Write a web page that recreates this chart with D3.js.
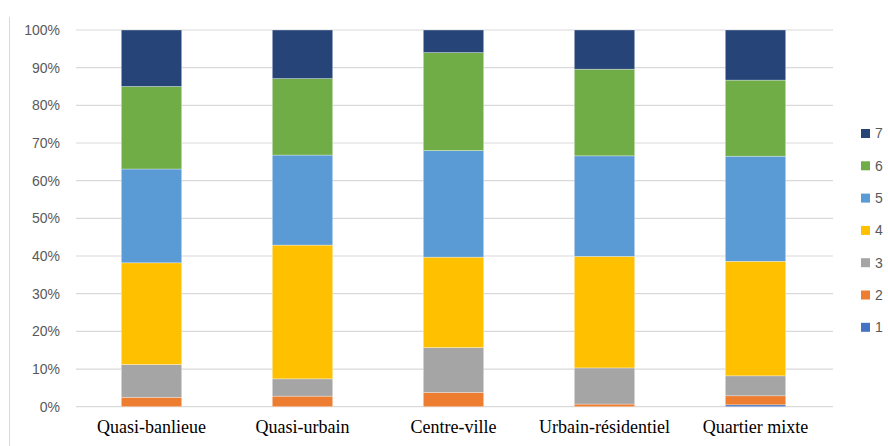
<!DOCTYPE html>
<html>
<head>
<meta charset="utf-8">
<script src="https://cdn.jsdelivr.net/npm/d3@7"></script>
<style>
  html, body { margin: 0; padding: 0; background: #fff; }
  svg { display: block; }
</style>
</head>
<body>
<svg id="chart" width="888" height="446"></svg>
<script>
// Neighbourhood types (x categories)
const categories = ["Quasi-banlieue", "Quasi-urbain", "Centre-ville", "Urbain-résidentiel", "Quartier mixte"];
// Response levels 1..7 stacked bottom to top
const levels = ["1", "2", "3", "4", "5", "6", "7"];
// Share of respondents (%) for each level, one value per category
const level1 = [0.0, 0.0, 0.0, 0.0, 0.5];
const level2 = [2.5, 2.8, 3.8, 0.7, 2.4];
const level3 = [8.7, 4.6, 11.9, 9.6, 5.3];
const level4 = [27.0, 35.5, 24.0, 29.6, 30.4];
const level5 = [24.9, 23.9, 28.3, 26.7, 27.9];
const level6 = [21.9, 20.3, 26.0, 23.0, 20.2];
const level7 = [15.0, 12.9, 6.0, 10.4, 13.3];
const tickValues = [0, 10, 20, 30, 40, 50, 60, 70, 80, 90, 100];
const colors = ["#4472C4", "#ED7D31", "#A5A5A5", "#FFC000", "#5B9BD5", "#70AD47", "#264478"];

const seriesValues = [level1, level2, level3, level4, level5, level6, level7];
const rows = categories.map((c, i) => {
  const r = { category: c };
  levels.forEach((l, j) => { r[l] = seriesValues[j][i]; });
  return r;
});
const stacked = d3.stack().keys(levels)(rows);

const svg = d3.select("#chart");

const x = d3.scaleBand().domain(categories).range([76, 831])
  .paddingInner(0.6).paddingOuter(0.3);
const y = d3.scaleLinear().domain([0, 100]).range([406.7, 30]);
const color = d3.scaleOrdinal().domain(levels).range(colors);

// outer frame edge on the left
svg.append("line")
  .attr("x1", 9.5).attr("x2", 9.5).attr("y1", 17).attr("y2", 446)
  .attr("stroke", "#d9d9d9").attr("stroke-width", 1);

// horizontal gridlines
svg.append("g")
  .selectAll("line")
  .data(tickValues)
  .join("line")
  .attr("x1", 76).attr("x2", 833)
  .attr("y1", d => y(d)).attr("y2", d => y(d))
  .attr("stroke", "#d9d9d9").attr("stroke-width", 1.2);

// y axis labels
const yAxis = d3.axisLeft(y).tickValues(tickValues).tickFormat(d => d + "%").tickSize(0).tickPadding(0);
const yg = svg.append("g").attr("transform", "translate(60,0)").call(yAxis);
yg.select(".domain").remove();
yg.selectAll("text")
  .attr("fill", "#595959")
  .style("font-family", "'Liberation Sans', Arial, sans-serif")
  .style("font-size", "14px");

// stacked bars
svg.append("g")
  .selectAll("g")
  .data(stacked)
  .join("g")
  .attr("fill", d => color(d.key))
  .selectAll("rect")
  .data(d => d)
  .join("rect")
  .attr("x", d => x(d.data.category))
  .attr("width", x.bandwidth())
  .attr("y", d => y(d[1]))
  .attr("height", d => Math.max(0, y(d[0]) - y(d[1])))
  .attr("stroke", "#ffffff").attr("stroke-opacity", 0.45).attr("stroke-width", 0.7);

// category labels
const xAxis = d3.axisBottom(x).tickSize(0).tickPadding(0);
const xg = svg.append("g").attr("transform", "translate(0,433)").call(xAxis);
xg.select(".domain").remove();
xg.selectAll(".tick text")
  .attr("y", 0).attr("dy", 0)
  .attr("fill", "#000")
  .style("font-family", "'Liberation Serif', 'Times New Roman', serif")
  .style("font-size", "18px");

// legend
const legend = svg.append("g")
  .selectAll("g")
  .data(levels.slice().reverse())
  .join("g")
  .attr("transform", (d, i) => `translate(861,${133.5 + i * 32.3})`);
legend.append("rect")
  .attr("x", 0).attr("y", -4.5).attr("width", 9).attr("height", 9)
  .attr("fill", d => color(d));
legend.append("text")
  .attr("x", 14).attr("y", 0).attr("dy", "0.35em")
  .attr("fill", "#595959")
  .style("font-family", "'Liberation Sans', Arial, sans-serif")
  .style("font-size", "14px")
  .text(d => d);
</script>
</body>
</html>
